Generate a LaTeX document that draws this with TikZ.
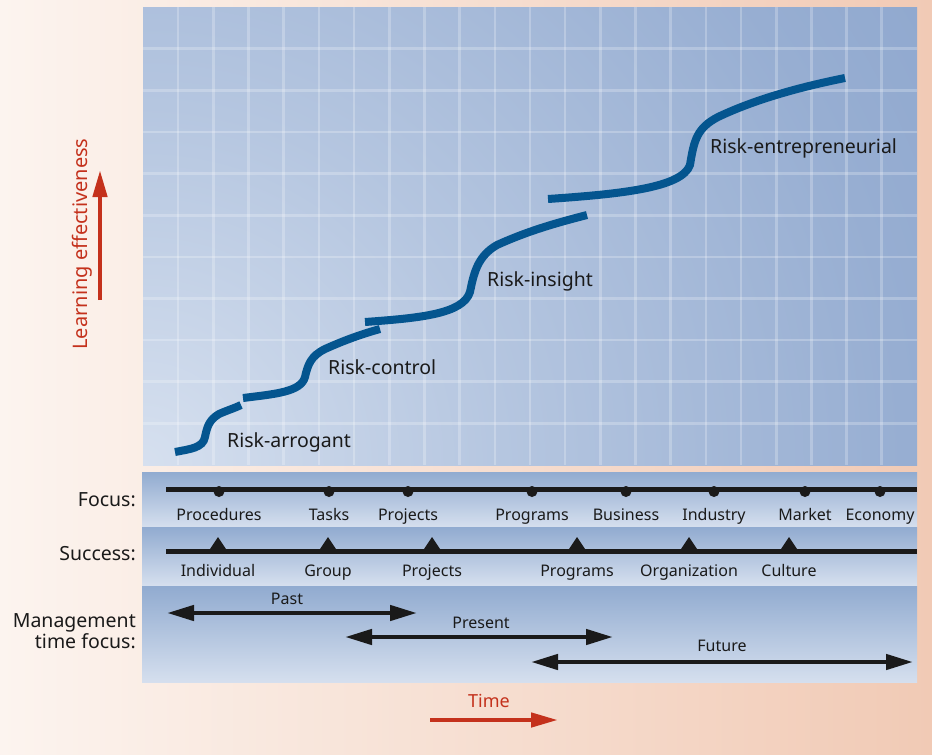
\documentclass[tikz,border=0pt]{standalone}
\usepackage{fontspec}
\setmainfont{Noto Sans}
\usetikzlibrary{arrows.meta}

% palette
\definecolor{bgL}{HTML}{FCF4EF}
\definecolor{bgR}{HTML}{F1CAB5}
\definecolor{pA}{HTML}{D6E0EF}
\definecolor{pB}{HTML}{B5C6E0}
\definecolor{pC}{HTML}{97AED2}
\definecolor{pD}{HTML}{7290C0}
\definecolor{curveblue}{HTML}{04558F}
\definecolor{ink}{HTML}{1A1A1A}
\definecolor{redarrow}{HTML}{C4311C}
\definecolor{bandTop}{HTML}{91ABD0}
\definecolor{bandBot}{HTML}{D5DFEE}

% light glow spreading from the lower left corner of the chart
\pgfdeclareradialshading{panelglow}{\pgfpoint{0bp}{0bp}}{%
  color(0bp)=(pA); color(9bp)=(pB); color(19bp)=(pC); color(40bp)=(pD); color(50bp)=(pD)}

\begin{document}
\begin{tikzpicture}[x=1pt,y=-1pt,
  gridline/.style={white, opacity=0.24, line width=2.6pt},
  stagecurve/.style={curveblue, line width=8pt},
  stagelabel/.style={anchor=base west, inner sep=0pt, text=ink, font=\fontsize{19.5}{21}\selectfont},
  ticklabel/.style={anchor=base, inner sep=0pt, text=ink, font=\fontsize{16}{18}\selectfont},
  rowlabel/.style={anchor=east, inner sep=0pt, text=ink, align=right, font=\fontsize{19.5}{19}\selectfont},
  railline/.style={ink, line width=5pt},
  periodarrow/.style={ink, line width=4.5pt, {Triangle[length=27pt,width=15pt]}-{Triangle[length=27pt,width=15pt]}},
  axisarrow/.style={redarrow, line width=4.5pt, -{Triangle[length=27pt,width=14pt]}},
  axislabel/.style={text=redarrow, inner sep=0pt},
  bandfill/.style={top color=bandTop, bottom color=bandBot}
]
\useasboundingbox (0,0) rectangle (932,755);

% page background
\shade[left color=bgL, right color=bgR] (0,0) rectangle (932,755);

% chart panel with grid
\begin{scope}
  \clip (143,7) rectangle (917,465);
  \shade[shading=panelglow] (143,465) circle (1000pt);
  \foreach \i in {1,...,21}
    \draw[gridline] ({143+\i*35.18},7) -- ({143+\i*35.18},465);
  \foreach \j in {1,...,10}
    \draw[gridline] (143,{7+\j*41.64}) -- (917,{7+\j*41.64});
\end{scope}

% learning stages
\draw[stagecurve] (175,452) .. controls (190,449) and (203,448) .. (205,437)
  .. controls (207,427) and (209,420) .. (219,414)
  .. controls (228,410) and (235,408) .. (241,405);
\draw[stagecurve] (243,398) .. controls (275,394) and (301,392) .. (305,377)
  .. controls (308,364) and (311,356) .. (325,349)
  .. controls (345,340) and (362,334) .. (380,329);
\draw[stagecurve] (365,322) .. controls (420,318) and (463,314) .. (470,292)
  .. controls (474,272) and (478,256) .. (497,245)
  .. controls (530,230) and (560,222) .. (587,215);
\draw[stagecurve] (548,199) .. controls (620,194) and (682,188) .. (690,165)
  .. controls (694,140) and (697,128) .. (718,117)
  .. controls (760,97) and (810,85) .. (845,78);

\node[stagelabel] (arrogant) at (227,447) {Risk-arrogant};
\node[stagelabel] (control) at (328,374) {Risk-control};
\node[stagelabel] (insight) at (487,286) {Risk-insight};
\node[stagelabel] (entrepreneurial) at (710,153) {Risk-entrepreneurial};

% bands below the chart
\shade[bandfill] (142,472) rectangle (917,527);
\shade[bandfill] (142,527) rectangle (917,585);
\shade[bandfill] (142,586) rectangle (917,682);

% focus scale
\draw[railline] (166,489) -- (917,489);
\foreach \x/\t/\n in {219/Procedures/procedures, 329/Tasks/tasks, 408/Projects/fprojects,
    532/Programs/fprograms, 626/Business/business, 714/Industry/industry,
    805/Market/market, 880/Economy/economy} {
  \fill[ink] (\x,491.5) circle (5.5pt);
  \node[ticklabel] (f-\n) at (\x,520) {\t};
}

% success scale
\draw[railline] (166,551) -- (917,551);
\foreach \x/\t/\n in {218/Individual/individual, 328/Group/group, 432/Projects/sprojects,
    577/Programs/sprograms, 689/Organization/organization, 789/Culture/culture} {
  \fill[ink] (\x-8,549) -- (\x,537) -- (\x+8,549) -- cycle;
  \node[ticklabel] (s-\n) at (\x,576) {\t};
}

% row captions
\node[rowlabel] (focusrow) at (136,500) {Focus:};
\node[rowlabel] (successrow) at (136,554) {Success:};
\node[rowlabel] (mgmtrow) at (136,631) {Management\\time focus:};

% management time focus
\coordinate (pastL) at (167,613);
\coordinate (pastR) at (417,613);
\coordinate (presentL) at (345,637);
\coordinate (presentR) at (613,637);
\coordinate (futureL) at (531,662);
\coordinate (futureR) at (913,662);
\draw[periodarrow] (pastL) -- (pastR);
\draw[periodarrow] (presentL) -- (presentR);
\draw[periodarrow] (futureL) -- (futureR);
\node[ticklabel] (past) at (287,604) {Past};
\node[ticklabel] (present) at (481,628) {Present};
\node[ticklabel] (future) at (722,651) {Future};

% axes
\coordinate (timeL) at (430,720);
\coordinate (timeR) at (558,720);
\draw[axisarrow] (timeL) -- (timeR);
\node[axislabel, anchor=base, font=\fontsize{18}{20}\selectfont] (time) at (489,707) {Time};

\coordinate (effB) at (100,300);
\coordinate (effT) at (100,170);
\draw[axisarrow] (effB) -- (effT);
\node[axislabel, anchor=base, rotate=90, font=\fontsize{20}{22}\selectfont] (effect) at (87,244) {Learning effectiveness};
\end{tikzpicture}
\end{document}
